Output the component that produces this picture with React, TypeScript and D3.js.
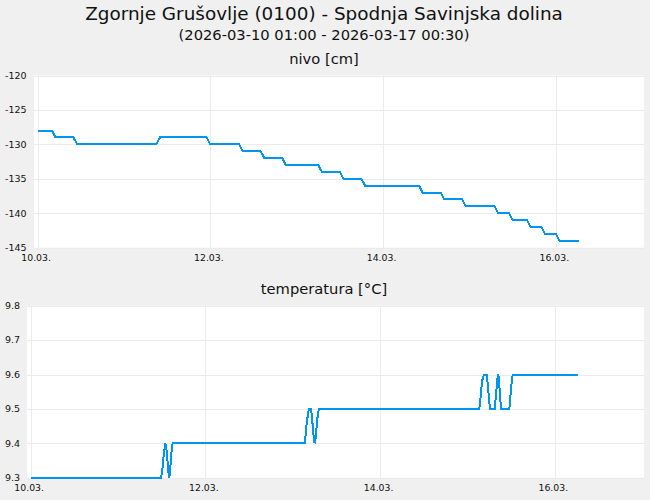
import React from 'react';
import * as d3 from 'd3';

// hours since 2026-03-10 00:00 (axis time)
const levelHours = [0, 4, 5, 10, 11, 33, 34, 47, 48, 56, 57, 62, 63, 68, 69, 78, 79, 84, 85, 90, 91, 106, 107, 112, 113, 118, 119, 127, 128, 131, 132, 136, 137, 140, 141, 144, 145, 150.5];
const levelValues = [-128, -128, -129, -129, -130, -130, -129, -129, -130, -130, -131, -131, -132, -132, -133, -133, -134, -134, -135, -135, -136, -136, -137, -137, -138, -138, -139, -139, -140, -140, -141, -141, -142, -142, -143, -143, -144, -144];

const tempHours = [
  0, 35.75, 36, 36.25, 36.5, 36.75, 37, 37.25, 37.5, 37.75, 38, 38.25, 38.5, 38.75, 39,
  75.25, 75.5, 75.75, 76, 76.25, 76.5, 77, 77.25, 77.5, 77.75, 78, 78.25, 78.5, 78.75, 79, 79.25,
  123.25, 123.5, 123.75, 124, 124.25, 124.5, 125.25, 125.5, 125.75, 126, 126.25,
  127.5, 127.75, 128, 128.25, 128.5, 128.75, 129, 129.25,
  131.5, 131.75, 132, 132.25, 132.5, 150.5,
];
const tempValues = [
  9.3, 9.3, 9.31, 9.33, 9.36, 9.38, 9.4, 9.39, 9.36, 9.33, 9.3, 9.31, 9.35, 9.38, 9.4,
  9.4, 9.42, 9.45, 9.47, 9.49, 9.5, 9.5, 9.48, 9.45, 9.42, 9.4, 9.41, 9.44, 9.47, 9.49, 9.5,
  9.5, 9.52, 9.55, 9.58, 9.59, 9.6, 9.6, 9.58, 9.55, 9.52, 9.5,
  9.5, 9.53, 9.56, 9.59, 9.6, 9.57, 9.53, 9.5,
  9.5, 9.53, 9.56, 9.59, 9.6, 9.6,
];

const levelTicks = [-120, -125, -130, -135, -140, -145];
const tempTicks = [9.8, 9.7, 9.6, 9.5, 9.4, 9.3];

const title = 'Zgornje Grušovlje (0100) - Spodnja Savinjska dolina';
const subtitle = '(2026-03-10 01:00 - 2026-03-17 00:30)';

const base = Date.UTC(2026, 2, 10);
const toDate = (h: number) => new Date(base + h * 3600000);
const xDomain = [toDate(-1), toDate(168.5)];
const xTickDates = d3.utcDay.range(toDate(0), toDate(168.5), 2);
const fmt = d3.utcFormat('%d.%m.');

const FONT = 'DejaVu Sans, sans-serif';
const LINE = '#0096f0';
const GRID = '#ebebeb';

interface PanelProps {
  left: number; right: number; top: number; bottom: number;
  label: string; hours: number[]; values: number[]; ticks: number[];
  fmtY: (v: number) => string;
}

const Panel: React.FC<PanelProps> = ({ left, right, top, bottom, label, hours, values, ticks, fmtY }) => {
  const x = d3.scaleUtc().domain(xDomain).range([left, right]);
  const y = d3.scaleLinear().domain(d3.extent(ticks) as [number, number]).range([bottom, top]);
  const line = d3.line<number>().x((_, i) => x(toDate(hours[i]))).y(v => y(v));
  return (
    <g>
      <text x={324} y={top - 11.5} textAnchor="middle" fontSize={14.7} fill="#111" fontFamily={FONT}>{label}</text>
      <rect x={left} y={top} width={right - left} height={bottom - top} fill="#fff" />
      {ticks.map(t => (
        <g key={t}>
          <line x1={left} x2={right} y1={Math.round(y(t)) + 0.5} y2={Math.round(y(t)) + 0.5} stroke={GRID} />
          <text x={5} y={y(t)} dy="0.35em" fontSize={9.5} fill="#111" fontFamily={FONT}>{fmtY(t)}</text>
        </g>
      ))}
      {xTickDates.map(d => (
        <g key={+d}>
          <line x1={Math.round(x(d)) + 0.5} x2={Math.round(x(d)) + 0.5} y1={top} y2={bottom} stroke={GRID} />
          <text x={x(d) - 1.5} y={bottom + 13.5} textAnchor="middle" fontSize={9.3} fill="#111" fontFamily={FONT}>{fmt(d)}</text>
        </g>
      ))}
      <path d={line(values) || ''} fill="none" stroke={LINE} strokeWidth={2} shapeRendering="crispEdges" />
    </g>
  );
};

export default function App() {
  return (
    <div style={{ position: 'absolute', left: 0, top: 0 }}>
      <svg width={650} height={500} style={{ display: 'block' }}>
        <rect width={650} height={500} fill="#f0f0f0" />
        <text x={324} y={20} textAnchor="middle" fontSize={18.4} fill="#111" fontFamily={FONT}>{title}</text>
        <text x={324} y={39.5} textAnchor="middle" fontSize={14.7} fill="#111" fontFamily={FONT}>{subtitle}</text>
        <Panel left={34} right={644} top={75.5} bottom={247.7} label="nivo [cm]"
          hours={levelHours} values={levelValues} ticks={levelTicks} fmtY={v => String(v)} />
        <Panel left={27} right={644} top={305.7} bottom={477.7} label="temperatura [°C]"
          hours={tempHours} values={tempValues} ticks={tempTicks} fmtY={v => v.toFixed(1)} />
      </svg>
    </div>
  );
}
